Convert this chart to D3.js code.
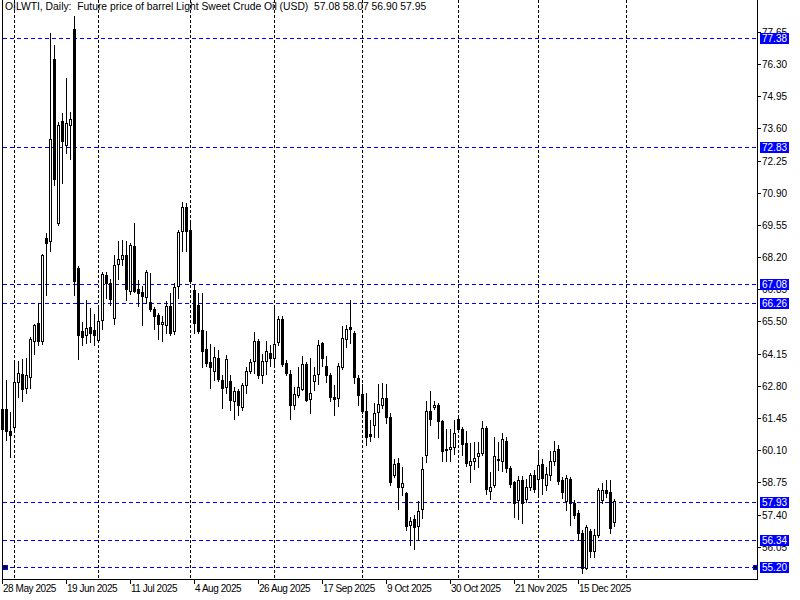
<!DOCTYPE html>
<html>
<head>
<meta charset="utf-8">
<script src="https://cdn.jsdelivr.net/npm/d3@7"></script>
<style>
html, body { margin: 0; padding: 0; background: #fff; }
svg { display: block; }
text { font-family: "Liberation Sans", Arial, sans-serif; font-size: 10px; white-space: pre; }
.title { font-size: 10.35px; }
.xlab { letter-spacing: -0.45px; }
</style>
</head>
<body>
<div id="chart"></div>
<script>
// OILWTI daily bars, one entry per bar (28 May 2025 .. end Dec 2025)
var opens = [
  61.83, 61.83, 60.90, 61.07, 62.96, 63.30, 62.71, 63.17, 64.68, 65.44,
  64.68, 69.00, 68.88, 76.51, 69.63, 73.92, 72.91, 73.74, 77.77, 67.74,
  65.10, 64.93, 65.27, 65.14, 64.72, 65.56, 67.45, 67.11, 65.64, 67.91,
  68.13, 68.29, 66.78, 68.67, 66.86, 66.74, 66.53, 66.32, 66.02, 65.77,
  65.39, 65.35, 66.15, 65.10, 66.99, 69.29, 70.30, 69.33, 66.82, 66.19,
  65.14, 64.34, 63.80, 63.42, 63.97, 63.04, 62.75, 63.00, 62.16, 62.58,
  61.91, 62.83, 63.42, 63.84, 64.68, 63.25, 63.84, 64.18, 63.97, 64.64,
  65.60, 63.76, 63.30, 61.99, 62.42, 62.67, 63.72, 62.25, 63.00, 63.30,
  64.60, 63.64, 63.25, 62.33, 62.29, 63.59, 64.76, 65.27, 65.02, 63.13,
  62.46, 61.74, 60.78, 61.16, 61.70, 61.99, 62.29, 61.49, 59.06, 59.56,
  58.56, 58.31, 56.96, 57.21, 56.92, 57.63, 59.90, 61.74, 61.91, 61.99,
  61.33, 60.15, 60.15, 60.24, 61.41, 60.99, 60.40, 59.48, 59.65, 59.86,
  59.98, 61.03, 58.39, 58.64, 59.73, 59.65, 60.49, 59.35, 58.77, 58.03,
  58.85, 58.05, 58.56, 59.06, 58.89, 59.52, 58.64, 59.06, 59.65, 60.15,
  58.85, 57.97, 58.89, 57.88, 57.46, 56.63, 55.16, 56.71, 55.87, 56.54,
  57.99, 58.43, 58.35, 57.08
];
var highs = [
  62.20, 63.04, 61.70, 63.84, 63.84, 63.93, 63.97, 64.85, 65.39, 66.27,
  68.33, 69.21, 77.60, 77.10, 73.87, 74.25, 75.71, 74.29, 78.31, 67.83,
  65.48, 66.40, 66.06, 65.81, 66.06, 67.57, 67.57, 67.28, 68.29, 68.88,
  68.92, 68.88, 68.79, 69.63, 67.24, 66.99, 67.66, 67.53, 66.11, 65.85,
  65.73, 66.36, 66.69, 67.11, 69.33, 70.52, 70.47, 69.63, 67.03, 66.69,
  66.69, 65.10, 64.55, 64.43, 64.30, 63.25, 64.09, 63.25, 62.75, 62.67,
  62.92, 63.59, 63.93, 65.06, 64.76, 64.14, 64.68, 64.51, 66.06, 65.73,
  65.73, 63.88, 63.46, 62.75, 63.59, 64.05, 63.80, 63.97, 63.59, 64.72,
  64.64, 64.05, 63.34, 62.83, 63.76, 65.31, 65.35, 66.40, 65.10, 63.25,
  62.88, 62.50, 61.37, 62.08, 62.88, 62.92, 62.88, 61.66, 59.73, 59.77,
  59.39, 58.35, 57.30, 57.38, 57.97, 59.81, 62.16, 62.58, 62.16, 62.08,
  61.37, 60.99, 60.99, 61.37, 61.49, 61.07, 60.90, 60.40, 60.44, 60.44,
  61.32, 61.11, 59.18, 60.65, 60.44, 60.82, 60.65, 59.44, 58.81, 59.02,
  59.02, 58.89, 59.14, 59.27, 59.98, 59.73, 59.39, 60.07, 60.49, 60.32,
  58.98, 59.06, 58.98, 58.01, 57.59, 56.75, 56.96, 56.79, 56.79, 58.52,
  58.72, 58.85, 58.85, 58.07
];
var lows = [
  60.53, 60.53, 59.81, 60.86, 62.33, 62.16, 62.50, 62.71, 64.14, 64.51,
  64.55, 66.61, 68.45, 71.22, 69.55, 71.31, 72.57, 72.32, 66.61, 63.93,
  64.51, 64.60, 64.64, 64.51, 64.64, 65.18, 66.48, 66.19, 65.39, 67.28,
  67.87, 66.40, 66.65, 66.74, 66.15, 65.35, 66.27, 65.94, 65.18, 64.76,
  64.68, 65.02, 64.93, 64.98, 66.48, 68.45, 68.45, 67.11, 65.02, 65.02,
  63.59, 63.64, 62.71, 63.04, 63.00, 61.87, 62.50, 61.78, 61.41, 61.58,
  61.78, 62.50, 63.34, 63.34, 63.13, 62.92, 63.30, 63.64, 63.59, 64.51,
  63.64, 63.25, 61.41, 61.83, 62.33, 62.62, 62.16, 61.66, 62.62, 62.88,
  63.64, 62.96, 62.16, 61.58, 61.95, 63.51, 64.43, 64.60, 62.92, 61.99,
  61.66, 60.32, 60.48, 60.65, 60.65, 61.87, 61.24, 58.64, 58.98, 57.63,
  58.22, 56.75, 56.12, 55.95, 56.33, 57.25, 59.60, 61.16, 61.83, 60.61,
  59.65, 59.65, 59.65, 59.94, 60.86, 59.90, 59.44, 58.77, 59.31, 59.39,
  59.90, 58.26, 58.05, 58.56, 59.27, 59.23, 59.18, 58.56, 57.30, 57.21,
  57.05, 57.93, 58.43, 58.35, 58.26, 58.26, 58.43, 58.85, 59.48, 58.68,
  58.09, 57.59, 56.96, 57.25, 56.33, 54.94, 55.12, 55.62, 55.62, 56.46,
  57.87, 58.14, 56.63, 56.90
];
var closes = [
  60.99, 60.90, 60.74, 62.96, 63.34, 62.67, 63.25, 64.76, 65.35, 64.68,
  68.29, 68.79, 73.15, 71.48, 73.74, 73.07, 73.83, 73.99, 67.20, 64.93,
  64.85, 65.23, 65.02, 64.93, 65.52, 67.49, 67.11, 66.44, 67.87, 68.13,
  68.29, 66.86, 68.72, 66.78, 66.69, 66.57, 67.57, 66.02, 65.73, 65.39,
  65.48, 66.15, 65.02, 66.94, 69.25, 70.30, 69.29, 67.20, 65.44, 65.10,
  64.26, 63.76, 63.59, 64.01, 63.09, 62.71, 63.93, 62.21, 62.58, 61.99,
  62.83, 63.42, 63.80, 64.68, 63.25, 63.84, 64.26, 63.97, 64.55, 65.60,
  63.72, 63.34, 61.99, 62.46, 62.75, 63.72, 62.21, 62.50, 63.25, 64.51,
  63.97, 63.25, 62.33, 62.25, 63.64, 64.81, 65.18, 65.18, 63.17, 62.42,
  61.74, 60.65, 60.69, 61.66, 62.04, 62.29, 61.49, 58.77, 59.52, 58.56,
  58.72, 56.92, 57.13, 56.88, 57.55, 59.31, 61.74, 61.41, 61.99, 61.33,
  60.07, 60.11, 60.24, 60.82, 60.99, 60.36, 59.56, 59.65, 59.77, 59.98,
  61.03, 58.47, 58.56, 59.86, 59.69, 60.57, 59.35, 58.68, 57.89, 58.85,
  57.89, 58.56, 59.06, 58.47, 59.48, 58.93, 59.10, 59.65, 60.07, 58.81,
  58.35, 58.93, 57.89, 57.37, 56.63, 55.16, 56.88, 55.87, 56.54, 58.43,
  58.43, 58.31, 56.84, 57.95
];

// time axis: label every 16 bars, dashed separators at month starts
var xTickIdx = [0, 16, 32, 48, 64, 80, 96, 112, 128, 144];
var xTickLabels = ["28 May 2025", "19 Jun 2025", "11 Jul 2025", "4 Aug 2025", "26 Aug 2025",
                   "17 Sep 2025", "9 Oct 2025", "30 Oct 2025", "21 Nov 2025", "15 Dec 2025"];
var gridIdx = [3, 24, 47, 68, 90, 114, 134, 156];

// price axis
var yTicks = [77.65, 76.30, 74.95, 73.60, 72.25, 70.90, 69.55, 68.20, 66.85, 65.50,
              64.15, 62.80, 61.45, 60.10, 58.75, 57.40, 56.05];
// horizontal user lines
var levels = [77.38, 72.83, 67.08, 66.26, 57.93, 56.34, 55.20];

var W = 800, H = 600;
var left = 2, right = 757, bottom = 579;
var blue = "#0000ff";

var svg = d3.select("#chart").append("svg")
    .attr("width", W)
    .attr("height", H)
    .attr("shape-rendering", "crispEdges");

var x = d3.scaleLinear().domain([0, 1]).range([2, 6]);
var y = d3.scaleLinear().domain([56.05, 76.30]).range([546.7, 64]);
function py(v) { return Math.round(y(v)); }

// vertical dashed grid
svg.append("g").selectAll("line")
    .data(gridIdx)
    .enter().append("line")
    .attr("x1", function (d) { return x(d) + 0.5; })
    .attr("x2", function (d) { return x(d) + 0.5; })
    .attr("y1", 0)
    .attr("y2", bottom)
    .attr("stroke", "#000")
    .attr("stroke-dasharray", "3,2");

// blue level lines
svg.append("g").selectAll("line")
    .data(levels)
    .enter().append("line")
    .attr("x1", left + 1)
    .attr("x2", right)
    .attr("y1", function (d) { return py(d) + 0.5; })
    .attr("y2", function (d) { return py(d) + 0.5; })
    .attr("stroke", blue)
    .attr("stroke-dasharray", "4,3");

// candles
var bars = d3.range(opens.length);
var candle = svg.append("g").selectAll("g")
    .data(bars)
    .enter().append("g");

candle.append("rect")
    .attr("x", function (i) { return x(i); })
    .attr("y", function (i) { return py(highs[i]); })
    .attr("width", 1)
    .attr("height", function (i) { return py(lows[i]) - py(highs[i]) + 1; })
    .attr("fill", "#000");

candle.append("rect")
    .attr("x", function (i) { return closes[i] < opens[i] ? x(i) - 1 : x(i) - 0.5; })
    .attr("y", function (i) {
        var t = py(Math.max(opens[i], closes[i]));
        return closes[i] < opens[i] ? t : t + 0.5;
    })
    .attr("width", function (i) { return closes[i] < opens[i] ? 3 : 2; })
    .attr("height", function (i) {
        var h = py(Math.min(opens[i], closes[i])) - py(Math.max(opens[i], closes[i]));
        return closes[i] < opens[i] ? Math.max(1, h + 1) : Math.max(1, h);
    })
    .attr("fill", function (i) { return closes[i] < opens[i] ? "#000" : "#fff"; })
    .attr("stroke", function (i) { return closes[i] < opens[i] ? "none" : "#000"; })
    .attr("stroke-width", 1);

// frame
svg.append("line").attr("x1", left + 0.5).attr("x2", left + 0.5).attr("y1", 0).attr("y2", bottom + 1).attr("stroke", "#000");
svg.append("line").attr("x1", right + 0.5).attr("x2", right + 0.5).attr("y1", 0).attr("y2", bottom + 1).attr("stroke", "#000");
svg.append("line").attr("x1", left).attr("x2", right + 1).attr("y1", bottom + 0.5).attr("y2", bottom + 0.5).attr("stroke", "#000");

// price scale
var yAxis = svg.append("g");
yAxis.selectAll("line")
    .data(yTicks)
    .enter().append("line")
    .attr("x1", right + 1)
    .attr("x2", right + 4)
    .attr("y1", function (d) { return py(d) + 0.5; })
    .attr("y2", function (d) { return py(d) + 0.5; })
    .attr("stroke", "#000");
yAxis.selectAll("text")
    .data(yTicks)
    .enter().append("text")
    .attr("x", right + 5)
    .attr("y", function (d) { return py(d) + 4; })
    .attr("fill", "#000")
    .text(function (d) { return d.toFixed(2); });

// time scale
var xAxis = svg.append("g");
xAxis.selectAll("line")
    .data(xTickIdx)
    .enter().append("line")
    .attr("x1", function (d) { return x(d) + 0.5; })
    .attr("x2", function (d) { return x(d) + 0.5; })
    .attr("y1", bottom)
    .attr("y2", bottom + 5)
    .attr("stroke", "#000");
xAxis.selectAll("text")
    .data(xTickIdx)
    .enter().append("text")
    .attr("class", "xlab")
    .attr("x", function (d) { return x(d) + 1; })
    .attr("y", bottom + 13)
    .attr("fill", "#000")
    .text(function (d, k) { return xTickLabels[k]; });

// labels of the user lines
var tags = svg.append("g").selectAll("g")
    .data(levels)
    .enter().append("g");
tags.append("rect")
    .attr("x", right + 3)
    .attr("y", function (d) { return py(d) - 5; })
    .attr("width", 29)
    .attr("height", 11)
    .attr("fill", blue);
tags.append("text")
    .attr("x", right + 5)
    .attr("y", function (d) { return py(d) + 4; })
    .attr("fill", "#fff")
    .text(function (d) { return d.toFixed(2); });

// selection squares at the ends of the lowest line
var low = levels[levels.length - 1];
[left + 1, right - 4].forEach(function (sx) {
    svg.append("rect")
        .attr("x", sx + 0.5)
        .attr("y", py(low) - 1.5)
        .attr("width", 4)
        .attr("height", 4)
        .attr("fill", "#000")
        .attr("stroke", blue);
});

// title with the last bar
var n = opens.length - 1;
svg.append("text")
    .attr("class", "title")
    .attr("x", 5)
    .attr("y", 10)
    .attr("fill", "#000")
    .text("OILWTI, Daily:  Future price of barrel Light Sweet Crude Oil (USD)  " +
        opens[n].toFixed(2) + " " + highs[n].toFixed(2) + " " + lows[n].toFixed(2) + " " + closes[n].toFixed(2));
</script>
</body>
</html>
